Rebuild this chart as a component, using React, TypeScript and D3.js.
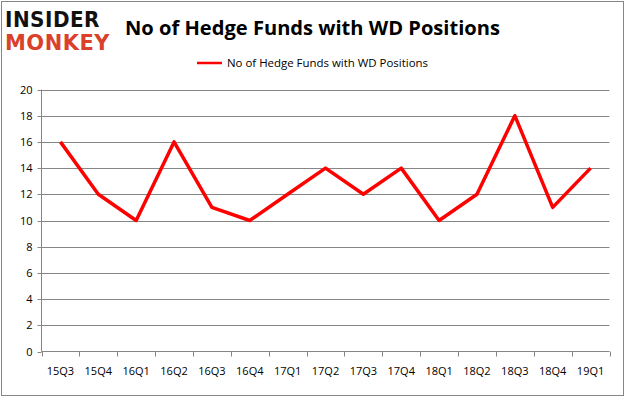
import React from "react";
import * as d3 from "d3";

const categories = ["15Q3","15Q4","16Q1","16Q2","16Q3","16Q4","17Q1","17Q2","17Q3","17Q4","18Q1","18Q2","18Q3","18Q4","19Q1"];
const values = [16,12,10,16,11,10,12,14,12,14,10,12,18,11,14];
const yTicks = [0,2,4,6,8,10,12,14,16,18,20];
const seriesName = "No of Hedge Funds with WD Positions";
const title = "No of Hedge Funds with WD Positions";

export default function App() {
  const W = 626, H = 397;
  const left = 41.5, right = 609.5, top = 89.5, bottom = 351.5;
  const x = d3.scaleBand().domain(categories).range([left, right]);
  const y = d3.scaleLinear().domain([0, 20]).range([bottom, top]);
  const line = d3.line<number>()
    .x((_, i) => (x(categories[i]) as number) + x.bandwidth() / 2)
    .y((d) => y(d));
  const font = "'Open Sans', 'Noto Sans', sans-serif";
  const edges = categories.map((c) => x(c) as number).concat([right]);
  return (
    <svg width={W} height={H} style={{ position: "absolute", left: 0, top: 0 }}>
      <rect x={0} y={0} width={W} height={H} fill="#fff" />
      <rect x={1.5} y={1.5} width={622} height={394} fill="none" stroke="#868686" strokeWidth={1} />
      <g fontFamily="'DejaVu Sans', sans-serif" fontWeight="bold">
        <text x={5} y={27} fontSize={21} fill="#111" letterSpacing={0.5} textLength={95} lengthAdjust="spacingAndGlyphs">INSIDER</text>
        <text x={5} y={50} fontSize={21} fill="#d9412b" letterSpacing={0.5} textLength={105} lengthAdjust="spacingAndGlyphs">MONKEY</text>
      </g>
      <text x={125} y={35} fontFamily={font} fontWeight="bold" fontSize={20} fill="#000" textLength={375} lengthAdjust="spacingAndGlyphs">{title}</text>
      <line x1={197} x2={222} y1={63} y2={63} stroke="#ff0000" strokeWidth={2.5} />
      <text x={227} y={67} fontFamily={font} fontSize={11} fill="#000" textLength={201} lengthAdjust="spacingAndGlyphs">{seriesName}</text>
      {yTicks.map((t) => (
        <g key={t}>
          {t > 0 && <line x1={left} x2={right} y1={Math.round(y(t)) + 0.5} y2={Math.round(y(t)) + 0.5} stroke="#868686" strokeWidth={1} />}
          <line x1={left - 4} x2={left} y1={Math.round(y(t)) + 0.5} y2={Math.round(y(t)) + 0.5} stroke="#868686" />
          <text x={left - 9} y={y(t) + 4} textAnchor="end" fontFamily={font} fontSize={11} fill="#000">{t}</text>
        </g>
      ))}
      <line x1={left} x2={left} y1={top} y2={bottom} stroke="#868686" />
      <line x1={left} x2={right} y1={bottom} y2={bottom} stroke="#868686" />
      {edges.map((e, i) => (
        <line key={i} x1={Math.round(e) + 0.5} x2={Math.round(e) + 0.5} y1={bottom} y2={bottom + 5} stroke="#868686" />
      ))}
      {categories.map((c) => (
        <text key={c} x={(x(c) as number) + x.bandwidth() / 2} y={375} textAnchor="middle" fontFamily={font} fontSize={11} fill="#000">{c}</text>
      ))}
      <path d={line(values) || ""} fill="none" stroke="#ff0000" strokeWidth={3.5} strokeLinejoin="round" />
    </svg>
  );
}
